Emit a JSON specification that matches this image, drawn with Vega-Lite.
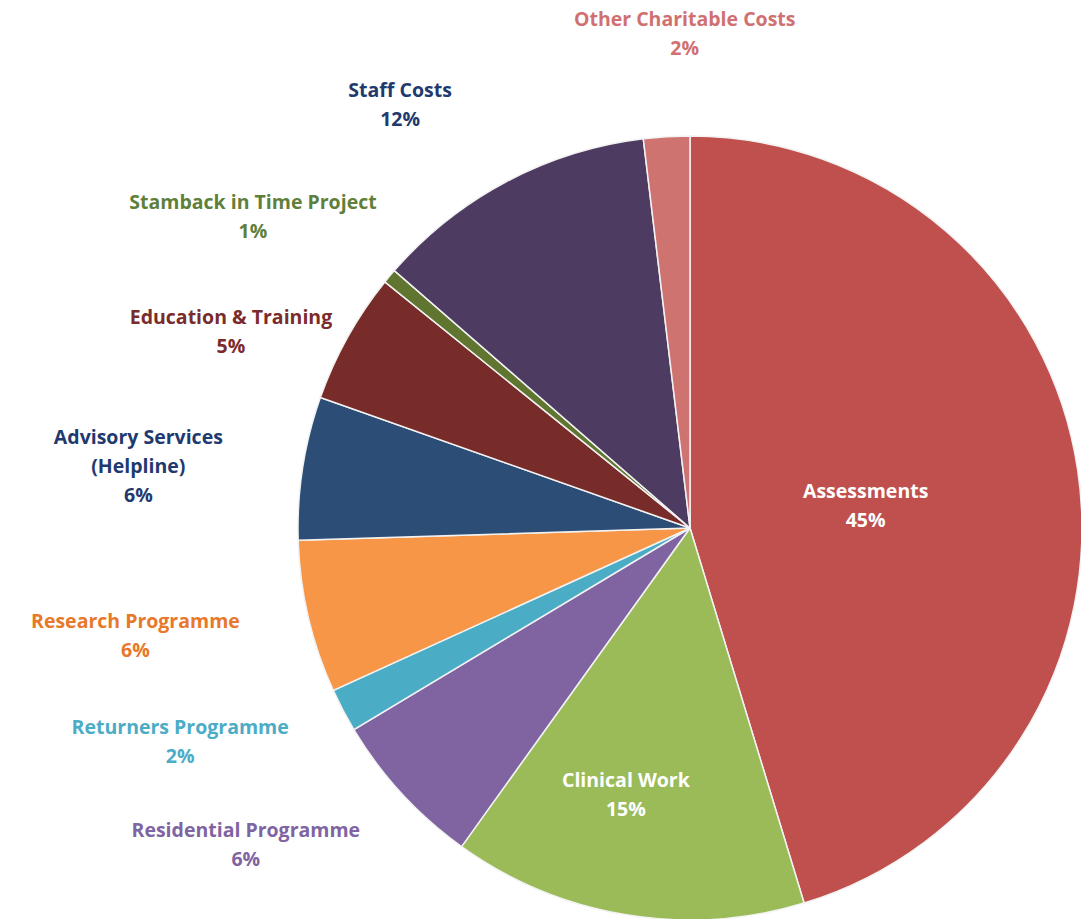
{
  "$schema": "https://vega.github.io/schema/vega-lite/v6.json",
  "width": 784,
  "height": 784,
  "autosize": "none",
  "padding": {"left": 298, "top": 136, "right": 0, "bottom": 0},
  "background": "white",
  "view": {"stroke": null},
  "config": {"text": {"font": "Open Sans", "fontSize": 19.5, "fontWeight": "bold", "lineHeight": 29}},
  "data": {
    "values": [
      {"idx": 1, "category": "Assessments", "value": 45.3, "lines": ["Assessments", "45%"]},
      {"idx": 2, "category": "Clinical Work", "value": 14.6, "lines": ["Clinical Work", "15%"]},
      {"idx": 3, "category": "Residential Programme", "value": 6.5, "lines": ["Residential Programme", "6%"]},
      {"idx": 4, "category": "Returners Programme", "value": 1.8, "lines": ["Returners Programme", "2%"]},
      {"idx": 5, "category": "Research Programme", "value": 6.3, "lines": ["Research Programme", "6%"]},
      {"idx": 6, "category": "Advisory Services (Helpline)", "value": 5.9, "lines": ["Advisory Services", "(Helpline)", "6%"]},
      {"idx": 7, "category": "Education & Training", "value": 5.4, "lines": ["Education & Training", "5%"]},
      {"idx": 8, "category": "Stamback in Time Project", "value": 0.6, "lines": ["Stamback in Time Project", "1%"]},
      {"idx": 9, "category": "Staff Costs", "value": 11.7, "lines": ["Staff Costs", "12%"]},
      {"idx": 10, "category": "Other Charitable Costs", "value": 1.9, "lines": ["Other Charitable Costs", "2%"]}
    ]
  },
  "encoding": {
    "theta": {"field": "value", "type": "quantitative", "stack": true},
    "order": {"field": "idx", "type": "quantitative"}
  },
  "layer": [
    {
      "mark": {"type": "arc", "stroke": "#f2f2f2", "strokeWidth": 1.5},
      "encoding": {
        "color": {
          "field": "category", "type": "nominal", "legend": null,
          "scale": {
            "domain": ["Assessments", "Clinical Work", "Residential Programme", "Returners Programme", "Research Programme", "Advisory Services (Helpline)", "Education & Training", "Stamback in Time Project", "Staff Costs", "Other Charitable Costs"],
            "range": ["#C0504D", "#9BBB59", "#8064A2", "#4BACC6", "#F79646", "#2C4D75", "#772C2A", "#5F7530", "#4D3B62", "#CF7371"]
          }
        }
      }
    },
    {
      "mark": {"type": "text", "radius": 177, "thetaOffset": 0.024, "dy": -14.5, "color": "white"},
      "encoding": {"text": {"condition": {"test": "datum.category === 'Assessments'", "field": "lines"}, "value": ""}}
    },
    {
      "mark": {"type": "text", "radius": 275, "thetaOffset": 0.072, "dy": -14.5, "color": "white"},
      "encoding": {"text": {"condition": {"test": "datum.category === 'Clinical Work'", "field": "lines"}, "value": ""}}
    },
    {
      "mark": {"type": "text", "radius": 546, "thetaOffset": 0.124, "dy": -14.5, "color": "#8064A2"},
      "encoding": {"text": {"condition": {"test": "datum.category === 'Residential Programme'", "field": "lines"}, "value": ""}}
    },
    {
      "mark": {"type": "text", "radius": 553, "thetaOffset": 0.086, "dy": -14.5, "color": "#4BACC6"},
      "encoding": {"text": {"condition": {"test": "datum.category === 'Returners Programme'", "field": "lines"}, "value": ""}}
    },
    {
      "mark": {"type": "text", "radius": 565, "thetaOffset": 0.037, "dy": -14.5, "color": "#E8782A"},
      "encoding": {"text": {"condition": {"test": "datum.category === 'Research Programme'", "field": "lines"}, "value": ""}}
    },
    {
      "mark": {"type": "text", "radius": 555, "thetaOffset": -0.044, "dy": -29, "color": "#1F3A6E"},
      "encoding": {"text": {"condition": {"test": "datum.category === 'Advisory Services (Helpline)'", "field": "lines"}, "value": ""}}
    },
    {
      "mark": {"type": "text", "radius": 499, "thetaOffset": -0.106, "dy": -14.5, "color": "#7A2C2C"},
      "encoding": {"text": {"condition": {"test": "datum.category === 'Education & Training'", "field": "lines"}, "value": ""}}
    },
    {
      "mark": {"type": "text", "radius": 536, "thetaOffset": -0.080, "dy": -14.5, "color": "#5F7F3A"},
      "encoding": {"text": {"condition": {"test": "datum.category === 'Stamback in Time Project'", "field": "lines"}, "value": ""}}
    },
    {
      "mark": {"type": "text", "radius": 512, "thetaOffset": -0.115, "dy": -14.5, "color": "#1F3A6E"},
      "encoding": {"text": {"condition": {"test": "datum.category === 'Staff Costs'", "field": "lines"}, "value": ""}}
    },
    {
      "mark": {"type": "text", "radius": 494, "thetaOffset": 0.049, "dy": -14.5, "color": "#D07070"},
      "encoding": {"text": {"condition": {"test": "datum.category === 'Other Charitable Costs'", "field": "lines"}, "value": ""}}
    }
  ]
}
